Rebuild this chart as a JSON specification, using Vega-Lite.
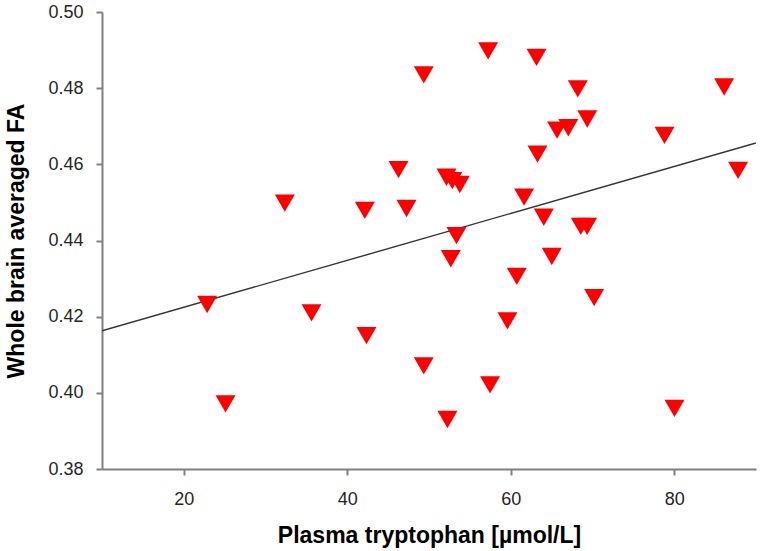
{
  "$schema": "https://vega.github.io/schema/vega-lite/v6.json",
  "width": 654,
  "height": 457,
  "autosize": {"type": "none"},
  "padding": {"left": 102, "top": 12, "right": 6, "bottom": 82},
  "background": "white",
  "config": {
    "view": {"stroke": null},
    "font": "Liberation Sans",
    "axis": {
      "grid": false,
      "domainColor": "#808080",
      "domainWidth": 2,
      "tickColor": "#808080",
      "tickWidth": 2,
      "tickSize": 6,
      "labelFont": "Liberation Sans",
      "labelFontSize": 18,
      "labelColor": "#262626",
      "titleFont": "Liberation Sans",
      "titleFontSize": 23,
      "titleFontWeight": "bold",
      "titleColor": "#000000"
    }
  },
  "datasets": {
    "pts": [
      {"trp": 22.86, "fa": 0.4232},
      {"trp": 25.11, "fa": 0.3971},
      {"trp": 32.36, "fa": 0.4498},
      {"trp": 35.63, "fa": 0.4210},
      {"trp": 42.15, "fa": 0.4479},
      {"trp": 42.35, "fa": 0.4150},
      {"trp": 46.27, "fa": 0.4586},
      {"trp": 47.25, "fa": 0.4484},
      {"trp": 49.36, "fa": 0.4835},
      {"trp": 49.36, "fa": 0.4071},
      {"trp": 52.14, "fa": 0.4566},
      {"trp": 52.85, "fa": 0.4557},
      {"trp": 53.77, "fa": 0.4547},
      {"trp": 53.36, "fa": 0.4413},
      {"trp": 52.67, "fa": 0.4352},
      {"trp": 52.26, "fa": 0.3930},
      {"trp": 57.23, "fa": 0.4898},
      {"trp": 57.47, "fa": 0.4021},
      {"trp": 59.6, "fa": 0.4189},
      {"trp": 60.74, "fa": 0.4306},
      {"trp": 61.63, "fa": 0.4514},
      {"trp": 63.15, "fa": 0.4881},
      {"trp": 63.27, "fa": 0.4627},
      {"trp": 64.04, "fa": 0.4461},
      {"trp": 65.02, "fa": 0.4358},
      {"trp": 65.67, "fa": 0.4690},
      {"trp": 67.04, "fa": 0.4696},
      {"trp": 68.2, "fa": 0.4798},
      {"trp": 69.36, "fa": 0.4719},
      {"trp": 68.57, "fa": 0.4437},
      {"trp": 69.34, "fa": 0.4437},
      {"trp": 70.2, "fa": 0.4250},
      {"trp": 78.81, "fa": 0.4676},
      {"trp": 80.03, "fa": 0.3959},
      {"trp": 86.1, "fa": 0.4803},
      {"trp": 87.81, "fa": 0.4584}
    ],
    "fit": [
      {"trp": 10, "fa": 0.4163},
      {"trp": 90, "fa": 0.4656}
    ]
  },
  "layer": [
    {
      "data": {"name": "fit"},
      "mark": {"type": "line", "color": "#333333", "strokeWidth": 1.4, "clip": true},
      "encoding": {
        "x": {"field": "trp", "type": "quantitative"},
        "y": {"field": "fa", "type": "quantitative"}
      }
    },
    {
      "data": {"name": "pts"},
      "mark": {"type": "point", "shape": "triangle-down", "filled": true, "color": "#FF0000", "opacity": 1, "size": 400},
      "encoding": {
        "x": {
          "field": "trp",
          "type": "quantitative",
          "scale": {"domain": [10, 90], "nice": false, "zero": false},
          "axis": {"values": [20, 40, 60, 80], "title": "Plasma tryptophan [µmol/L]", "labelPadding": 15, "titlePadding": 16}
        },
        "y": {
          "field": "fa",
          "type": "quantitative",
          "scale": {"domain": [0.38, 0.5], "nice": false, "zero": false},
          "axis": {"values": [0.38, 0.4, 0.42, 0.44, 0.46, 0.48, 0.5], "format": ".2f", "title": "Whole brain averaged FA", "labelPadding": 13, "titleX": -79, "titleBaseline": "alphabetic"}
        }
      }
    }
  ]
}
